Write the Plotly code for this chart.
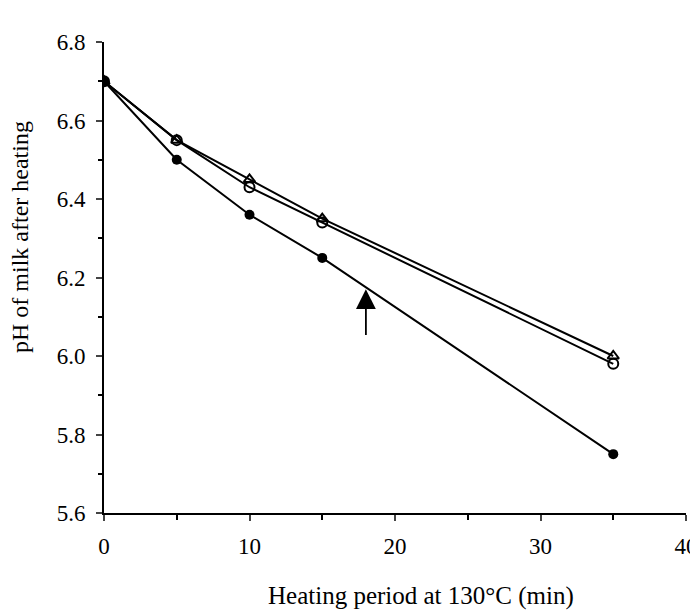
import plotly.graph_objects as go

time_min = [0, 5, 10, 15, 35]
ph_filled = [6.70, 6.50, 6.36, 6.25, 5.75]
ph_triangle = [6.70, 6.55, 6.45, 6.35, 6.00]
ph_open = [6.70, 6.55, 6.43, 6.34, 5.98]
arrow_x = 18
arrow_tip = 6.17
arrow_tail = 6.05

x_ticks = [0, 10, 20, 30, 40]
y_ticks = [5.6, 5.8, 6.0, 6.2, 6.4, 6.6, 6.8]
y_tick_text = ["5.6", "5.8", "6.0", "6.2", "6.4", "6.6", "6.8"]

# page has an 8px body margin; figure coordinates are page coords minus 8
OFF = 8
W, H = 698 - OFF, 614 - OFF
L, T = 104 - OFF, 42 - OFF
pw, ph = 582, 471
R, B = W - L - pw, H - T - ph

SERIF = "Liberation Serif, Times New Roman, serif"

fig = go.Figure()
fig.add_trace(go.Scatter(x=time_min, y=ph_triangle, mode="lines+markers",
                         line=dict(color="black", width=2),
                         marker=dict(symbol="triangle-up-open", size=10, color="black", line=dict(width=2))))
fig.add_trace(go.Scatter(x=time_min, y=ph_open, mode="lines+markers",
                         line=dict(color="black", width=2),
                         marker=dict(symbol="circle-open", size=10, color="black", line=dict(width=2))))
fig.add_trace(go.Scatter(x=time_min, y=ph_filled, mode="lines+markers",
                         line=dict(color="black", width=2),
                         marker=dict(symbol="circle", size=10, color="black")))

fig.add_annotation(x=arrow_x, y=arrow_tip, ax=arrow_x, ay=arrow_tail,
                   xref="x", yref="y", axref="x", ayref="y",
                   showarrow=True, arrowhead=2, arrowsize=2.2, arrowwidth=1.8,
                   arrowcolor="black", text="")

fig.add_annotation(text="Heating period at 130°C (min)",
                   xref="paper", yref="paper",
                   x=(421 - 104) / pw, y=-(596 - 513) / ph,
                   xanchor="center", yanchor="middle", showarrow=False,
                   font=dict(family=SERIF, size=25, color="black"))

fig.add_annotation(text="pH of milk after heating",
                   xref="paper", yref="paper",
                   x=(20 - 104) / pw, y=(513 - 237) / ph,
                   xanchor="center", yanchor="middle", showarrow=False, textangle=-90,
                   font=dict(family=SERIF, size=24, color="black"))

tickfont = dict(family=SERIF, size=23, color="black")

fig.update_layout(
    width=W, height=H,
    margin=dict(l=L, r=R, t=T, b=B),
    paper_bgcolor="white", plot_bgcolor="white",
    showlegend=False,
    font=dict(family=SERIF, size=23, color="black"),
    xaxis=dict(range=[0, 40], tickvals=x_ticks, ticks="outside", ticklen=6, tickwidth=2,
               tickfont=tickfont,
               showline=True, linecolor="black", linewidth=2, showgrid=False, zeroline=False,
               ticklabelstandoff=5, automargin=False,
               minor=dict(tickvals=[5, 15, 25, 35], ticks="outside", ticklen=5, tickwidth=1.5, tickcolor="black")),
    yaxis=dict(range=[5.6, 6.8], tickvals=y_ticks, ticktext=y_tick_text, ticks="outside", ticklen=6, tickwidth=2,
               tickfont=tickfont,
               showline=True, linecolor="black", linewidth=2, showgrid=False, zeroline=False,
               ticklabelstandoff=6, automargin=False,
               minor=dict(tickvals=[5.7, 5.9, 6.1, 6.3, 6.5, 6.7], ticks="outside", ticklen=4, tickwidth=1.5, tickcolor="black")),
)

fig.write_html("out.html")
